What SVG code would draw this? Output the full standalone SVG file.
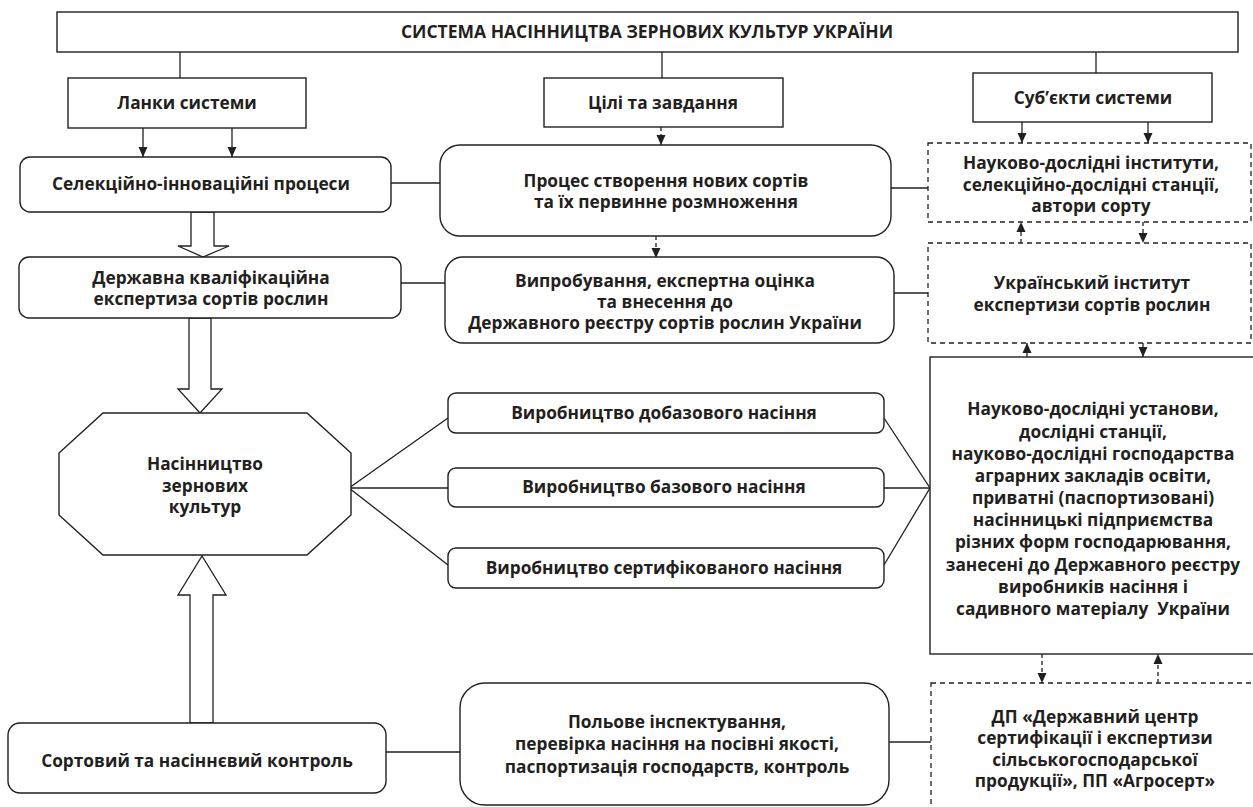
<svg xmlns="http://www.w3.org/2000/svg" width="1253" height="807" viewBox="0 0 1253 807">
<style>
  .box{fill:#fff;stroke:#231f20;stroke-width:1.4}
  .dbox{fill:#fff;stroke:#231f20;stroke-width:1.3;stroke-dasharray:5 4}
  .ln{fill:none;stroke:#231f20;stroke-width:1.3}
  .dl{fill:none;stroke:#231f20;stroke-width:1.3;stroke-dasharray:4 3}
  .big{fill:#fff;stroke:#231f20;stroke-width:1.3}
  text{font-family:"Open Sans","Noto Sans","DejaVu Sans",sans-serif;font-weight:bold;font-size:17.3px;fill:#231f20;text-anchor:middle}
  .t{font-size:17.5px}
</style>
<defs>
  <marker id="ah" viewBox="0 0 10 10" refX="10" refY="5" markerWidth="10" markerHeight="10" markerUnits="userSpaceOnUse" orient="auto">
    <path d="M0,0.5 L10,5 L0,9.5 z" fill="#231f20"/>
  </marker>
</defs>

<g id="connectors">
  <line class="ln" x1="180" y1="52" x2="180" y2="78"/>
  <line class="ln" x1="662" y1="52" x2="662" y2="78"/>
  <line class="ln" x1="1096" y1="52" x2="1096" y2="73"/>
  <line class="ln" x1="143" y1="128" x2="143" y2="157" marker-end="url(#ah)"/>
  <line class="ln" x1="232" y1="128" x2="232" y2="157" marker-end="url(#ah)"/>
  <line class="dl" x1="661" y1="127" x2="661" y2="145" marker-end="url(#ah)"/>
  <line class="dl" x1="656" y1="236" x2="656" y2="258" marker-end="url(#ah)"/>
  <line class="ln" x1="1022" y1="122" x2="1022" y2="143" marker-end="url(#ah)"/>
  <line class="ln" x1="1148" y1="122" x2="1148" y2="143" marker-end="url(#ah)"/>
  <line class="dl" x1="1021" y1="243" x2="1021" y2="222" marker-end="url(#ah)"/>
  <line class="dl" x1="1143" y1="222" x2="1143" y2="243" marker-end="url(#ah)"/>
  <line class="ln" x1="1027" y1="357" x2="1027" y2="343" marker-end="url(#ah)"/>
  <line class="ln" x1="1143" y1="343" x2="1143" y2="357" marker-end="url(#ah)"/>
  <line class="dl" x1="1042" y1="654" x2="1042" y2="683" marker-end="url(#ah)"/>
  <line class="dl" x1="1158" y1="683" x2="1158" y2="654" marker-end="url(#ah)"/>
  <line class="ln" x1="391" y1="183" x2="440" y2="183"/>
  <line class="ln" x1="401" y1="283" x2="445" y2="283"/>
  <line class="ln" x1="891" y1="188" x2="928" y2="188"/>
  <line class="ln" x1="894" y1="293" x2="928" y2="293"/>
  <line class="ln" x1="386" y1="752" x2="460" y2="752"/>
  <line class="ln" x1="889" y1="742" x2="931" y2="742"/>
  <polyline class="ln" points="448,418 349,488 448,565"/>
  <line class="ln" x1="349" y1="488" x2="448" y2="488"/>
  <polyline class="ln" points="884,418 930,488 884,565"/>
  <line class="ln" x1="884" y1="488" x2="930" y2="488"/>
  <polygon class="big" points="191,212 191,246 178,246 203,257 229,246 214,246 214,212"/>
  <polygon class="big" points="189,318 189,389 178,389 200,413 222,389 211,389 211,318"/>
  <polygon class="big" points="190,723 190,595 178,595 202,556 226,595 213,595 213,723"/>
</g>

<g id="title">
  <rect class="box" x="57" y="12" width="1181" height="40"/>
  <text class="t" x="647" y="38">СИСТЕМА НАСІННИЦТВА ЗЕРНОВИХ КУЛЬТУР УКРАЇНИ</text>
</g>
<g id="lanky">
  <rect class="box" x="68" y="78" width="238" height="50"/>
  <text x="187" y="109">Ланки системи</text>
</g>
<g id="tsili">
  <rect class="box" x="544" y="78" width="239" height="49"/>
  <text x="663" y="109">Цілі та завдання</text>
</g>
<g id="subiekty">
  <rect class="box" x="973" y="73" width="239" height="49"/>
  <text x="1093" y="104">Суб’єкти системи</text>
</g>
<g id="selektsiini">
  <rect class="box" x="20" y="157" width="371" height="55" rx="10"/>
  <text x="201" y="190">Селекційно-інноваційні процеси</text>
</g>
<g id="derzhavna">
  <rect class="box" x="19" y="257" width="382" height="61" rx="10"/>
  <text x="211" y="284">Державна кваліфікаційна</text>
  <text x="211" y="305">експертиза сортів рослин</text>
</g>
<g id="protses">
  <rect class="box" x="440" y="145" width="451" height="91" rx="20"/>
  <text x="666" y="187">Процес створення нових сортів</text>
  <text x="666" y="208">та їх первинне розмноження</text>
</g>
<g id="vyprobuvannia">
  <rect class="box" x="445" y="257" width="449" height="86" rx="18"/>
  <text x="665" y="287">Випробування, експертна оцінка</text>
  <text x="665" y="308">та внесення до</text>
  <text x="665" y="329">Державного реєстру сортів рослин України</text>
</g>
<g id="instytuty">
  <rect class="dbox" x="928" y="143" width="323" height="79"/>
  <text x="1091" y="169">Науково-дослідні інститути,</text>
  <text x="1091" y="191">селекційно-дослідні станції,</text>
  <text x="1091" y="212">автори сорту</text>
</g>
<g id="uies">
  <rect class="dbox" x="928" y="243" width="323" height="100"/>
  <text x="1092" y="289">Український інститут</text>
  <text x="1092" y="311">експертизи сортів рослин</text>
</g>
<g id="nasinnytstvo">
  <polygon class="box" points="103,413 307,413 351,453 351,515 307,555 103,555 59,515 59,453"/>
  <text x="205" y="470">Насінництво</text>
  <text x="205" y="492">зернових</text>
  <text x="205" y="513">культур</text>
</g>
<g id="dobazove">
  <rect class="box" x="448" y="393" width="436" height="40" rx="8"/>
  <text x="664" y="419">Виробництво добазового насіння</text>
</g>
<g id="bazove">
  <rect class="box" x="448" y="468" width="436" height="39" rx="8"/>
  <text x="664" y="493">Виробництво базового насіння</text>
</g>
<g id="sertyfikovane">
  <rect class="box" x="448" y="548" width="436" height="40" rx="8"/>
  <text x="664" y="574">Виробництво сертифікованого насіння</text>
</g>
<g id="ustanovy">
  <rect class="box" x="930" y="357" width="330" height="297"/>
  <text x="1093" y="415">Науково-дослідні установи,</text>
  <text x="1093" y="438">дослідні станції,</text>
  <text x="1093" y="460">науково-дослідні господарства</text>
  <text x="1093" y="482">аграрних закладів освіти,</text>
  <text x="1093" y="504">приватні (паспортизовані)</text>
  <text x="1093" y="526">насінницькі підприємства</text>
  <text x="1093" y="548">різних форм господарювання,</text>
  <text x="1093" y="571">занесені до Державного реєстру</text>
  <text x="1093" y="593">виробників насіння і</text>
  <text x="1093" y="615">садивного матеріалу&#160; України</text>
</g>
<g id="kontrol">
  <rect class="box" x="8" y="723" width="378" height="70" rx="12"/>
  <text x="197" y="767">Сортовий та насіннєвий контроль</text>
</g>
<g id="polove">
  <rect class="box" x="460" y="683" width="429" height="122" rx="25"/>
  <text x="677" y="728">Польове інспектування,</text>
  <text x="677" y="750">перевірка насіння на посівні якості,</text>
  <text x="677" y="773">паспортизація господарств, контроль</text>
</g>
<g id="dptsentr">
  <rect class="dbox" x="931" y="683" width="330" height="140"/>
  <text x="1095" y="723">ДП «Державний центр</text>
  <text x="1095" y="744">сертифікації і експертизи</text>
  <text x="1095" y="766">сільськогосподарської</text>
  <text x="1095" y="787">продукції», ПП «Агросерт»</text>
</g>
</svg>
